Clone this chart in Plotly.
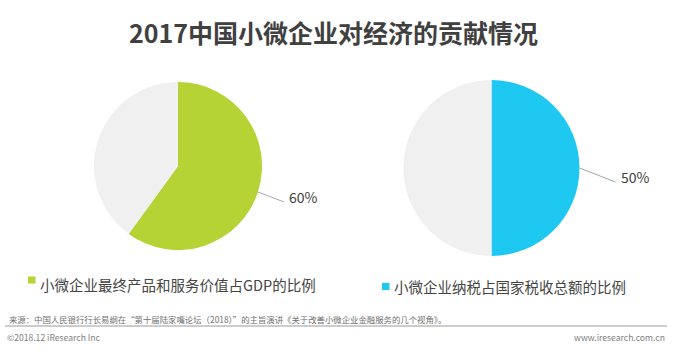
import math
import plotly.graph_objects as go

W, H = 682, 353

title = "2017中国小微企业对经济的贡献情况"
series_names = ["小微企业最终产品和服务价值占GDP的比例", "小微企业纳税占国家税收总额的比例"]
shares = [60, 50]
share_labels = ["60%", "50%"]
colors = ["#b5d334", "#1fc8f1"]
rest_color = "#f0f0f1"
source_text = "来源：中国人民银行行长易纲在“第十届陆家嘴论坛（2018）”的主旨演讲《关于改善小微企业金融服务的几个视角》。"
copyright_text = "©2018.12 iResearch Inc"
site_text = "www.iresearch.com.cn"

FONT = "Noto Sans CJK SC, Noto Sans, sans-serif"

# pie geometry in pixels (center x, center y, radius)
pies = [(178, 166, 84), (491.5, 168, 88)]
# legend square (x, y-center) and text center y
legend_pos = [(28, 280, 284), (382, 286.5, 286)]

def px(x):
    return x / W

def py(y):
    return 1 - y / H

fig = go.Figure()
shapes = []
annotations = []

for i, (val, col) in enumerate(zip(shares, colors)):
    cx, cy, r = pies[i]
    fig.add_trace(go.Pie(
        values=[val, 100 - val],
        labels=[series_names[i], "其他"],
        marker=dict(colors=[col, rest_color], line=dict(width=0)),
        sort=False, direction="clockwise", rotation=0,
        textinfo="none", hoverinfo="label+percent",
        domain=dict(x=[px(cx - r), px(cx + r)], y=[py(cy + r), py(cy - r)]),
        showlegend=False,
    ))
    # leader line from slice midpoint
    ang = math.radians(360 * val / 100 / 2)
    x0 = cx + r * math.sin(ang)
    y0 = cy - r * math.cos(ang)
    y1 = y0 + (10 if i == 0 else 14)
    x1 = x0 + (26 if i == 0 else 36)
    shapes.append(dict(type="line", xref="paper", yref="paper",
                       x0=px(x0), y0=py(y0), x1=px(x1), y1=py(y1),
                       line=dict(color="#a6a6a6", width=1)))
    annotations.append(dict(x=px(x1 + 3), y=py(y1 - 5), xref="paper", yref="paper",
                            text=share_labels[i], showarrow=False, xanchor="left", yanchor="middle",
                            font=dict(family=FONT, size=14, color="#404040")))
    # legend
    lx, ly, ty = legend_pos[i]
    shapes.append(dict(type="rect", xref="paper", yref="paper",
                       x0=px(lx), x1=px(lx + 7.5), y0=py(ly - 3.5), y1=py(ly + 3.5),
                       fillcolor=col, line=dict(width=0)))
    annotations.append(dict(x=px(lx + 10), y=py(ty), xref="paper", yref="paper",
                            text=series_names[i], showarrow=False, xanchor="left", yanchor="middle",
                            font=dict(family=FONT, size=14.5, color="#454545")))

annotations.append(dict(x=px(333), y=py(32), xref="paper", yref="paper", text="<b>" + title + "</b>",
                        showarrow=False, xanchor="center", yanchor="middle",
                        font=dict(family=FONT, size=25, color="#404040")))
annotations.append(dict(x=px(7), y=py(319), xref="paper", yref="paper", text=source_text,
                        showarrow=False, xanchor="left", yanchor="middle",
                        font=dict(family=FONT, size=8.4, color="#707070")))
shapes.append(dict(type="line", xref="paper", yref="paper", x0=px(5), x1=px(667),
                   y0=py(326), y1=py(326), line=dict(color="#9a9a9a", width=1)))
annotations.append(dict(x=px(5), y=py(337), xref="paper", yref="paper", text=copyright_text,
                        showarrow=False, xanchor="left", yanchor="middle",
                        font=dict(family=FONT, size=8.6, color="#808080")))
annotations.append(dict(x=px(667), y=py(337), xref="paper", yref="paper", text=site_text,
                        showarrow=False, xanchor="right", yanchor="middle",
                        font=dict(family=FONT, size=8.6, color="#808080")))

fig.update_layout(width=W, height=H, margin=dict(l=0, r=0, t=0, b=0),
                  paper_bgcolor="white", plot_bgcolor="white",
                  shapes=shapes, annotations=annotations, showlegend=False)

fig.write_html("out.html")
